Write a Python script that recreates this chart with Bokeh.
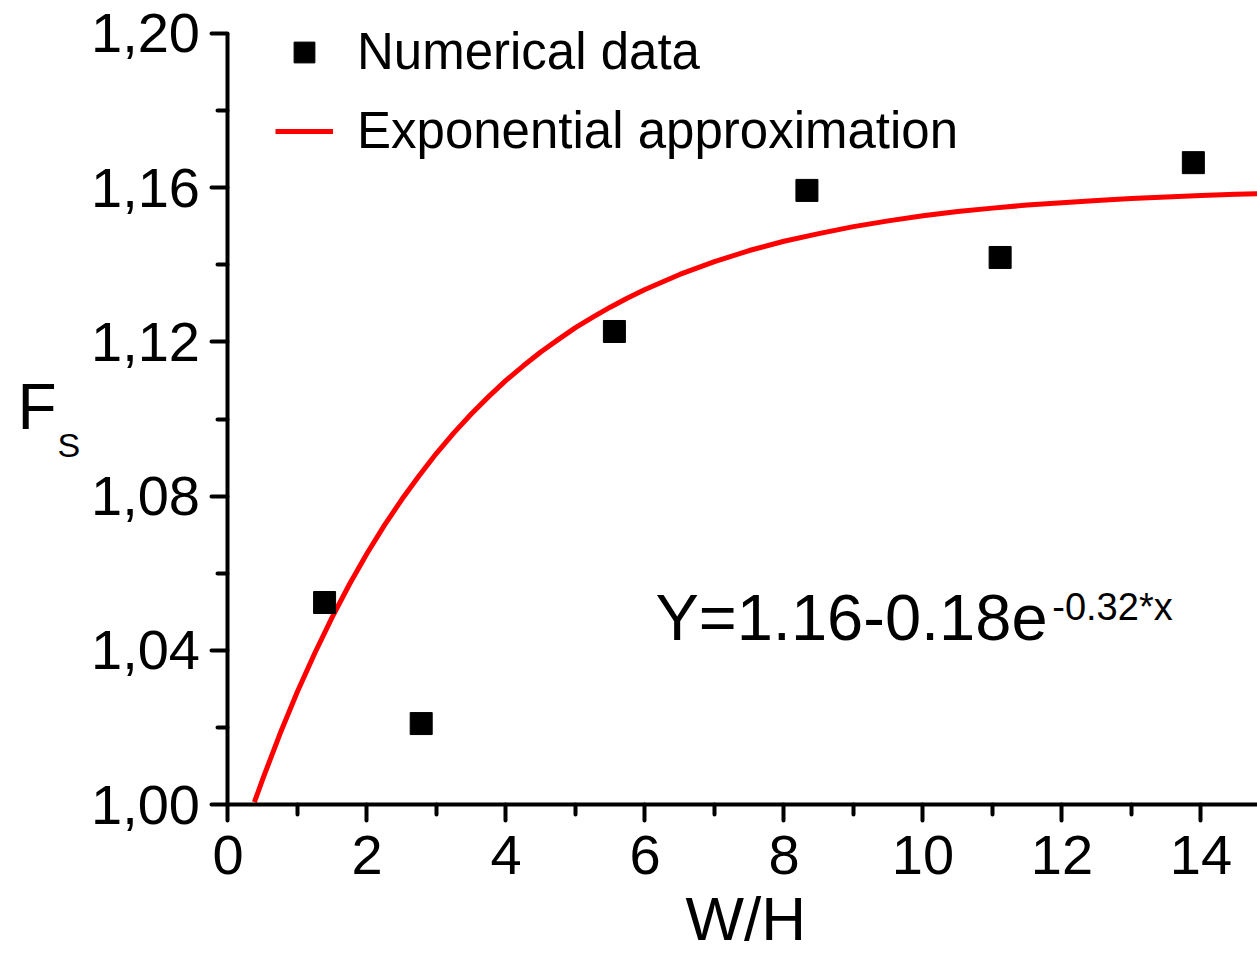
from bokeh.plotting import figure
from bokeh.models import (Range1d, FixedTicker, CustomJSTickFormatter, Label,
                          Legend, LegendItem)
from bokeh.embed import file_html
from bokeh.resources import INLINE

# Numerical data
wh_data = [1.39, 2.78, 5.56, 8.33, 11.11, 13.89]
fs_data = [1.0524, 1.0210, 1.1227, 1.1593, 1.1419, 1.1665]

# Exponential approximation curve
wh_fit = [0.38, 0.5, 0.75, 1.0, 1.25, 1.5, 1.75, 2.0, 2.25, 2.5, 2.75, 3.0,
          3.25, 3.5, 3.75, 4.0, 4.25, 4.5, 4.75, 5.0, 5.25, 5.5, 5.75, 6.0,
          6.5, 7.0, 7.5, 8.0, 8.5, 9.0, 9.5, 10.0, 10.5, 11.0, 11.5, 12.0,
          12.5, 13.0, 13.5, 14.0, 14.5, 15.0]
fs_fit = [1.0006, 1.0066, 1.0184, 1.0293, 1.0393, 1.0486, 1.0572, 1.0651,
          1.0724, 1.0791, 1.0853, 1.0911, 1.0964, 1.1013, 1.1058, 1.1100,
          1.1138, 1.1174, 1.1206, 1.1237, 1.1264, 1.1290, 1.1314, 1.1336,
          1.1375, 1.1408, 1.1437, 1.1461, 1.1481, 1.1499, 1.1514, 1.1527,
          1.1538, 1.1547, 1.1555, 1.1561, 1.1567, 1.1572, 1.1576, 1.1580,
          1.1583, 1.1585]

x_ticks = [0, 2, 4, 6, 8, 10, 12, 14]
x_minor = [1, 3, 5, 7, 9, 11, 13]
y_ticks = [1.00, 1.04, 1.08, 1.12, 1.16, 1.20]
y_minor = [1.02, 1.06, 1.10, 1.14, 1.18]
x_axis_span = (0, 14.813)
y_axis_span = (1.00, 1.20)

FONT = "Liberation Sans"

# frame fills the whole page; the axes cross at (0, 1.00)
p = figure(width=1257, height=953, output_backend="svg", toolbar_location=None,
           x_range=Range1d(-3.273, 14.813), y_range=Range1d(0.96135, 1.20856),
           min_border_left=0, min_border_right=0, min_border_top=0,
           min_border_bottom=0)
p.outline_line_color = None
p.grid.visible = False
p.background_fill_color = "white"
p.border_fill_color = "white"

fmt_y = CustomJSTickFormatter(code="return tick.toFixed(2).replace('.', ',');")
fmt_x = CustomJSTickFormatter(code="return tick.toFixed(0);")

for ax, ticks, minor, fmt in ((p.xaxis[0], x_ticks, x_minor, fmt_x),
                              (p.yaxis[0], y_ticks, y_minor, fmt_y)):
    ax.ticker = FixedTicker(ticks=ticks, minor_ticks=minor)
    ax.formatter = fmt
    ax.axis_line_width = 4
    ax.axis_line_color = "black"
    ax.major_tick_line_width = 4
    ax.minor_tick_line_width = 4
    ax.major_tick_out = 16
    ax.major_tick_in = 0
    ax.minor_tick_out = 10
    ax.minor_tick_in = 0
    ax.major_tick_line_cap = "round"
    ax.minor_tick_line_cap = "round"
    ax.major_label_text_font = FONT
    ax.major_label_text_font_size = "56px"
    ax.major_label_text_color = "black"

p.xaxis.fixed_location = y_axis_span[0]
p.xaxis.bounds = x_axis_span
p.yaxis.fixed_location = x_axis_span[0]
p.yaxis.bounds = y_axis_span
p.xaxis.major_label_standoff = 15
p.yaxis.major_label_standoff = 12

line_r = p.line(wh_fit, fs_fit, line_color="#ff0000", line_width=5,
                line_join="round")
sc_r = p.scatter(wh_data, fs_data, marker="square", size=22,
                 fill_color="black", line_color="black")

legend = Legend(items=[LegendItem(label="Numerical data", renderers=[sc_r]),
                       LegendItem(label="Exponential approximation", renderers=[line_r])],
                location=(275, 793), orientation="vertical",
                label_text_font=FONT, label_text_font_size="51px",
                label_text_color="black", glyph_width=58, glyph_height=52,
                label_standoff=24, spacing=20, padding=0, margin=0,
                border_line_color=None, background_fill_alpha=0)
p.add_layout(legend)

def text_label(x, y, text, size, align="left"):
    p.add_layout(Label(x=x, y=y, text=text, text_font=FONT,
                       text_font_size=size, text_align=align,
                       text_baseline="alphabetic", text_color="black"))

# axis titles
text_label(7.45, 0.97043, "W/H", "62px", "center")
text_label(-3.029, 1.10324, "F", "64px")
text_label(-2.453, 1.09313, "S", "34px")

# equation
text_label(6.15, 1.0485, "Y=1.16-0.18e", "65px")
text_label(11.86, 1.0513, "-0.32*x", "38px")

open("out.html", "w").write(file_html(p, INLINE))
